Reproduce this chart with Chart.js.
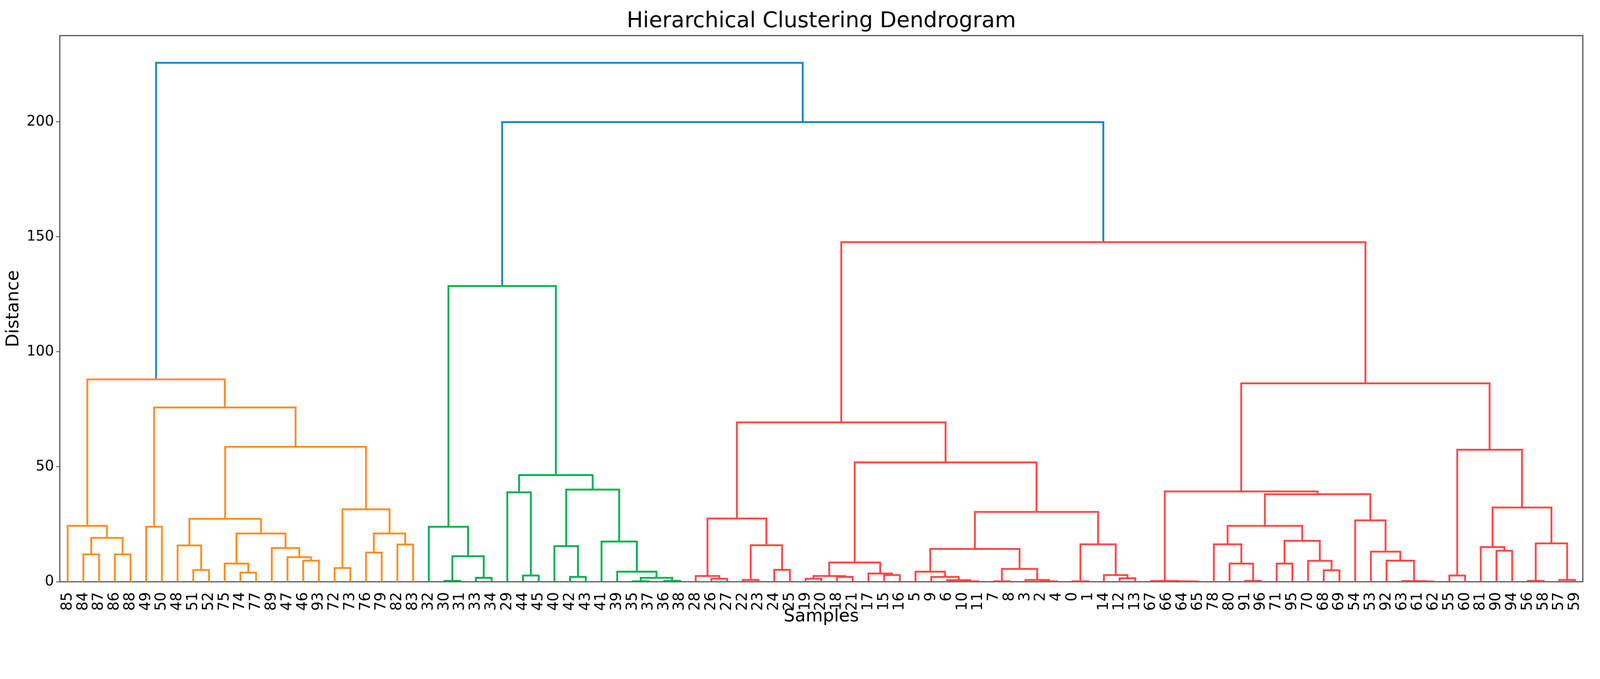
<!DOCTYPE html>
<html>
<head>
<meta charset="utf-8">
<title>Hierarchical Clustering Dendrogram</title>
<script src="https://cdn.jsdelivr.net/npm/chart.js@4.4.1/dist/chart.umd.min.js"></script>
<style>
  html, body { margin: 0; padding: 0; background: #fff; overflow: hidden; }
  #dendro { display: block; width: 100vw; height: calc(100vw * 1737 / 4360); }
</style>
</head>
<body>
<canvas id="dendro" width="4360" height="1737" style="width:100vw;height:calc(100vw * 1737 / 4360)"></canvas>
<script>
// leaf order along the x axis (sample ids)
const leafOrder = [85,84,87,86,88,49,50,48,51,52,75,74,77,89,47,46,93,72,73,76,79,82,83,
    32,30,31,33,34,29,44,45,40,42,43,41,39,35,37,36,38,
    28,26,27,22,23,24,25,19,20,18,21,17,15,16,5,9,6,10,11,7,8,3,2,4,0,1,14,12,13,
    67,66,64,65,78,80,91,96,71,95,70,68,69,54,53,92,63,61,62,55,60,81,90,94,56,58,57,59];

const yTicks = [0, 50, 100, 150, 200];

// merges: [id, left, right, distance]  (numbers = samples, strings = earlier merges)
const orangeMerges = [
    ['o1', 84, 87, 11.9], ['o2', 86, 88, 11.9], ['o3', 'o1', 'o2', 19.1], ['o4', 85, 'o3', 24.3],
    ['o5', 49, 50, 23.9], ['o6', 51, 52, 5.1], ['o7', 48, 'o6', 15.8],
    ['o8', 74, 77, 4.0], ['o9', 75, 'o8', 7.9], ['o10', 46, 93, 9.2], ['o11', 47, 'o10', 10.7],
    ['o12', 89, 'o11', 14.7], ['o13', 'o9', 'o12', 21.0], ['o14', 'o7', 'o13', 27.4],
    ['o15', 72, 73, 6.0], ['o16', 76, 79, 12.7], ['o17', 82, 83, 16.2], ['o18', 'o16', 'o17', 21.0],
    ['o19', 'o15', 'o18', 31.5], ['o20', 'o14', 'o19', 58.7], ['o21', 'o5', 'o20', 75.8],
    ['o22', 'o4', 'o21', 88.0]
];

const greenMerges = [
    ['g1', 30, 31, 0.4], ['g2', 33, 34, 1.7], ['g3', 'g1', 'g2', 11.1], ['g4', 32, 'g3', 23.9],
    ['g5', 44, 45, 2.7], ['g6', 29, 'g5', 38.9], ['g7', 42, 43, 2.1], ['g8', 40, 'g7', 15.5],
    ['g9', 35, 37, 0.2], ['g10', 36, 38, 0.4], ['g11', 'g9', 'g10', 1.7], ['g12', 39, 'g11', 4.4],
    ['g13', 41, 'g12', 17.5], ['g14', 'g8', 'g13', 40.1], ['g15', 'g6', 'g14', 46.4],
    ['g16', 'g4', 'g15', 128.6]
];

const redMerges = [
    ['r1', 26, 27, 1.3], ['r2', 28, 'r1', 2.5], ['r3', 22, 23, 0.8], ['r4', 24, 25, 5.2],
    ['r5', 'r3', 'r4', 15.9], ['r6', 'r2', 'r5', 27.5],
    ['r7', 19, 20, 1.3], ['r8', 18, 21, 2.1], ['r9', 'r7', 'r8', 2.5], ['r10', 15, 16, 2.9],
    ['r11', 17, 'r10', 3.6], ['r12', 'r9', 'r11', 8.4],
    ['r13', 10, 11, 0.2], ['r14', 6, 'r13', 0.7], ['r15', 9, 'r14', 2.1], ['r16', 5, 'r15', 4.4],
    ['r17', 7, 8, 0.2], ['r18', 2, 4, 0.2], ['r19', 3, 'r18', 0.8], ['r20', 'r17', 'r19', 5.6],
    ['r21', 'r16', 'r20', 14.3], ['r22', 0, 1, 0.2], ['r23', 12, 13, 1.5], ['r24', 14, 'r23', 2.9],
    ['r25', 'r22', 'r24', 16.3], ['r26', 'r21', 'r25', 30.4], ['r27', 'r12', 'r26', 51.9],
    ['r28', 'r6', 'r27', 69.3],
    ['r29', 64, 65, 0.1], ['r30', 66, 'r29', 0.2], ['r31', 67, 'r30', 0.35],
    ['r32', 91, 96, 0.4], ['r33', 80, 'r32', 7.9], ['r34', 78, 'r33', 16.3],
    ['r35', 71, 95, 7.9], ['r36', 68, 69, 5.0], ['r37', 70, 'r36', 9.1], ['r38', 'r35', 'r37', 17.8],
    ['r39', 'r34', 'r38', 24.3], ['r40', 61, 62, 0.1], ['r41', 63, 'r40', 0.3], ['r42', 92, 'r41', 9.2],
    ['r43', 53, 'r42', 13.1], ['r44', 54, 'r43', 26.7], ['r45', 'r39', 'r44', 38.1],
    ['r46', 'r31', 'r45', 39.3], ['r47', 55, 60, 2.7], ['r48', 90, 94, 13.5], ['r49', 81, 'r48', 15.1],
    ['r50', 56, 58, 0.4], ['r51', 57, 59, 0.8], ['r52', 'r50', 'r51', 16.7], ['r53', 'r49', 'r52', 32.3],
    ['r54', 'r47', 'r53', 57.4], ['r55', 'r46', 'r54', 86.3], ['r56', 'r28', 'r55', 147.7]
];

const topMerges = [
    ['t1', 'g16', 'r56', 199.9], ['t2', 'o22', 't1', 225.7]
];

const linkGroups = [
    { merges: orangeMerges, color: '#ff8c1e' },
    { merges: greenMerges, color: '#00b04c' },
    { merges: redMerges, color: '#ff4545' },
    { merges: topMerges, color: '#1384c6' }
];

// node positions: leaves at 5, 15, 25 ... like scipy, merges at the middle of their children
const nodes = {};
leafOrder.forEach((s, i) => { nodes[s] = { x: 5 + 10 * i, y: 0 }; });

const datasets = [];
linkGroups.forEach(group => {
    group.merges.forEach(m => {
        const a = nodes[m[1]], b = nodes[m[2]], h = m[3];
        nodes[m[0]] = { x: (a.x + b.x) / 2, y: h };
        datasets.push({
            data: [{x: a.x, y: a.y}, {x: a.x, y: h}, {x: b.x, y: h}, {x: b.x, y: b.y}],
            borderColor: group.color,
            borderWidth: 5,
            showLine: true,
            fill: false,
            pointRadius: 0,
            tension: 0,
            borderJoinStyle: 'miter'
        });
    });
});

// frame round the plot area
const framePlugin = {
    id: 'frame',
    beforeDatasetsDraw(chart) {
        const a = chart.chartArea, ctx = chart.ctx;
        ctx.save();
        ctx.strokeStyle = '#4a4a4a';
        ctx.lineWidth = 3;
        ctx.strokeRect(a.left, a.top, a.right - a.left, a.bottom - a.top);
        ctx.restore();
    }
};

const fontFamily = "'DejaVu Sans', sans-serif";

new Chart(document.getElementById('dendro'), {
    type: 'scatter',
    data: { datasets: datasets },
    plugins: [framePlugin],
    options: {
        responsive: false,
        devicePixelRatio: 1,
        animation: false,
        layout: { padding: { left: 0, right: 36, top: 0, bottom: 0 } },
        plugins: {
            legend: { display: false },
            tooltip: { enabled: false },
            title: {
                display: true,
                fullSize: false,
                text: 'Hierarchical Clustering Dendrogram',
                color: '#000',
                font: { family: fontFamily, size: 59, weight: 'normal', lineHeight: 1 },
                padding: { top: 29, bottom: 9 }
            }
        },
        scales: {
            x: {
                type: 'linear',
                min: 0,
                max: leafOrder.length * 10,
                afterBuildTicks: scale => {
                    scale.ticks = leafOrder.map((s, i) => ({ value: 5 + 10 * i }));
                },
                afterFit: scale => { scale.height = 153; },
                grid: { display: false },
                border: { display: false },
                ticks: {
                    autoSkip: false,
                    maxRotation: 90,
                    minRotation: 90,
                    padding: 20,
                    color: '#000',
                    font: { family: fontFamily, size: 40 },
                    callback: (v, i) => String(leafOrder[i])
                },
                title: {
                    display: true,
                    text: 'Samples',
                    color: '#000',
                    font: { family: fontFamily, size: 48, lineHeight: 1 },
                    padding: { top: 0, bottom: 33 }
                }
            },
            y: {
                min: 0,
                max: 237.5,
                afterBuildTicks: scale => {
                    scale.ticks = yTicks.map(v => ({ value: v }));
                },
                afterFit: scale => { scale.width = 163; },
                grid: {
                    drawOnChartArea: false,
                    drawTicks: true,
                    tickLength: 10,
                    tickWidth: 2,
                    tickColor: '#333'
                },
                border: { display: false },
                ticks: {
                    padding: 6,
                    color: '#000',
                    font: { family: fontFamily, size: 39 }
                },
                title: {
                    display: true,
                    text: 'Distance',
                    color: '#000',
                    font: { family: fontFamily, size: 48, lineHeight: 1 },
                    padding: { top: 14, bottom: 0 }
                }
            }
        }
    }
});
</script>
</body>
</html>
